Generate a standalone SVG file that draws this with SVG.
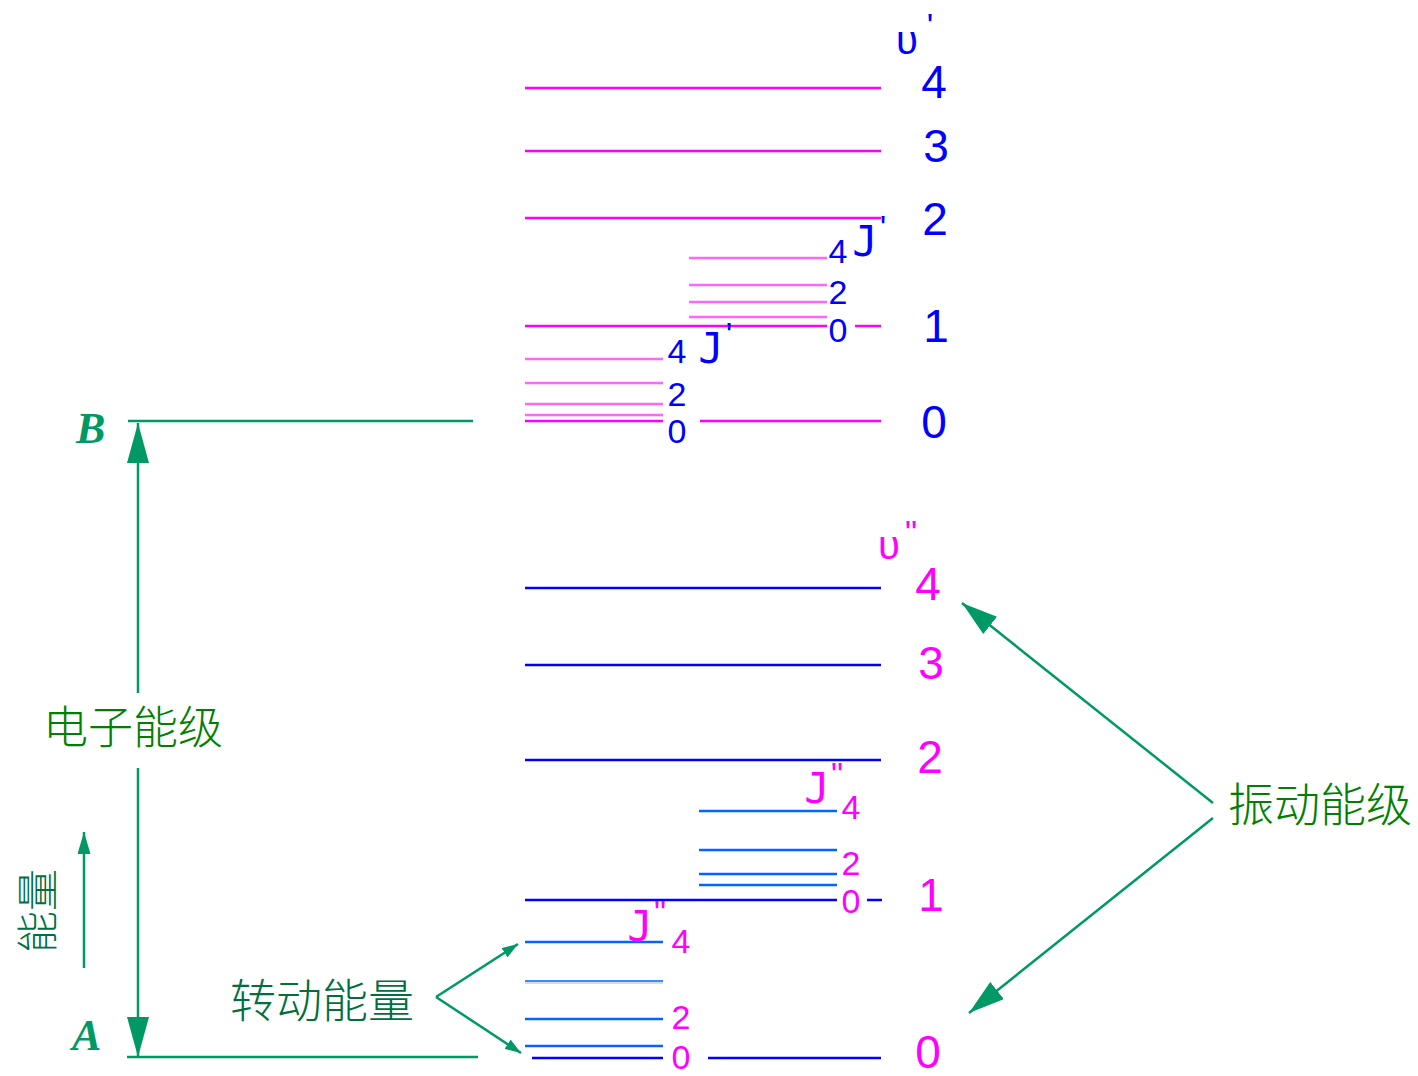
<svg xmlns="http://www.w3.org/2000/svg" width="1418" height="1076" viewBox="0 0 1418 1076">
<defs>
<style>
.bg{fill:#ffffff}
.um{stroke:#ff00ff;stroke-width:2.5;fill:none}
.ur{stroke:#ff66ff;stroke-width:2.5;fill:none}
.lm{stroke:#0000ff;stroke-width:2.5;fill:none}
.lr{stroke:#0066ff;stroke-width:2.5;fill:none}
.gl{stroke:#009966;stroke-width:2.5;fill:none}
.bd{font-family:"Liberation Sans",Arial,sans-serif;font-size:46px;fill:#0000ff;text-anchor:middle}
.bs{font-family:"Liberation Sans",Arial,sans-serif;font-size:34px;fill:#0000ff;text-anchor:middle}
.md{font-family:"Liberation Sans",Arial,sans-serif;font-size:46px;fill:#ff00ff;text-anchor:middle}
.ms{font-family:"Liberation Sans",Arial,sans-serif;font-size:34px;fill:#ff00ff;text-anchor:middle}
.jb{font-family:"DejaVu Sans Mono",monospace;font-size:42px;fill:#0000ff;text-anchor:middle}
.jm{font-family:"DejaVu Sans Mono",monospace;font-size:42px;fill:#ff00ff;text-anchor:middle}
.cn{font-family:"Noto Sans CJK SC",sans-serif;font-weight:300}
.ab{font-family:"Liberation Serif","Times New Roman",serif;font-style:italic;font-weight:bold;font-size:44px;fill:#009966}
</style>
<marker id="hBig" viewBox="0 0 40 22" refX="40" refY="11" markerWidth="40" markerHeight="22" markerUnits="userSpaceOnUse" orient="auto"><path d="M0,0 L40,11 L0,22 z" fill="#009966"/></marker>
<marker id="hMid" viewBox="0 0 36 22" refX="36" refY="11" markerWidth="36" markerHeight="22" markerUnits="userSpaceOnUse" orient="auto"><path d="M0,0 L36,11 L0,22 z" fill="#009966"/></marker>
<marker id="hSm" viewBox="0 0 22 13" refX="22" refY="6.5" markerWidth="22" markerHeight="13" markerUnits="userSpaceOnUse" orient="auto"><path d="M0,0 L22,6.5 L0,13 z" fill="#009966"/></marker>
<marker id="hTiny" viewBox="0 0 16 11" refX="16" refY="5.5" markerWidth="16" markerHeight="11" markerUnits="userSpaceOnUse" orient="auto"><path d="M0,0 L16,5.5 L0,11 z" fill="#009966"/></marker>
</defs>
<rect class="bg" x="0" y="0" width="1418" height="1076"/>

<g id="upper-state">
<path class="um" d="M525,88H881M525,151H881M525,218H881M525,326H827M855,326H881M525,421H663M700,421H881"/>
<path class="ur" d="M689,258H827M689,285H827M689,302H827M689,317H827"/>
<path class="ur" d="M525,359H663M525,383H663M525,404H663M525,415H663"/>
<text class="bd" x="934" y="98">4</text>
<text class="bd" x="936" y="162">3</text>
<text class="bd" x="935" y="235">2</text>
<text class="bd" x="936" y="342">1</text>
<text class="bd" x="934" y="438">0</text>
<text x="907" y="54" style="font-family:'Liberation Sans',sans-serif;font-size:40px;fill:#0000ff;text-anchor:middle">υ</text>
<text class="bs" x="930" y="37">'</text>
<text class="bs" x="838" y="263">4</text>
<text class="bs" x="838" y="304">2</text>
<text class="bs" x="838" y="342">0</text>
<text class="jb" x="865" y="256">J</text>
<text class="bs" x="883" y="239">'</text>
<text class="bs" x="677" y="363">4</text>
<text class="bs" x="677" y="406">2</text>
<text class="bs" x="677" y="443">0</text>
<text class="jb" x="711" y="363">J</text>
<text class="bs" x="729" y="346">'</text>
</g>

<g id="lower-state">
<path class="lm" d="M525,588H881M525,665H881M525,760H881M525,900H837M867,900H882M532,1058H663M708,1058H881"/>
<path class="lr" d="M699,811H837M699,850H837M699,874H837M699,885H837"/>
<path class="lr" d="M525,942H663M525,1019H663M525,1046H663"/>
<path d="M525,981H663" stroke="#3d8cff" stroke-width="2" fill="none"/>
<path d="M525,983H663" stroke="#c8c8ff" stroke-width="1.5" fill="none"/>
<text class="md" x="928" y="600">4</text>
<text class="md" x="931" y="679">3</text>
<text class="md" x="930" y="773">2</text>
<text class="md" x="931" y="911">1</text>
<text class="md" x="928" y="1068">0</text>
<text x="889" y="559" style="font-family:'Liberation Sans',sans-serif;font-size:40px;fill:#ff00ff;text-anchor:middle">υ</text>
<text class="ms" x="911" y="544">"</text>
<text class="ms" x="851" y="819">4</text>
<text class="ms" x="851" y="875">2</text>
<text class="ms" x="851" y="913">0</text>
<text class="jm" x="817" y="803">J</text>
<text class="ms" x="837" y="786">"</text>
<text class="ms" x="681" y="953">4</text>
<text class="ms" x="681" y="1029">2</text>
<text class="ms" x="681" y="1069">0</text>
<text class="jm" x="640" y="941">J</text>
<text class="ms" x="660" y="924">"</text>
</g>

<g id="electronic-levels">
<path class="gl" d="M128,421H473M127,1057H478"/>
<text class="ab" x="76" y="443">B</text>
<text class="ab" x="72" y="1050">A</text>
</g>

<g id="label-electronic">
<text class="cn" x="43" y="744" style="font-size:45px;fill:#008000">电子能级</text>
</g>
<g id="label-energy">
<text class="cn" transform="translate(53,911) rotate(-90)" x="0" y="0" style="font-size:42px;fill:#007040;text-anchor:middle">能量</text>
</g>
<g id="label-rotation">
<text class="cn" x="230" y="1017" style="font-size:46px;fill:#006f3c">转动能量</text>
</g>
<g id="label-vibration">
<text class="cn" x="1228" y="821" style="font-size:46px;fill:#008000">振动能级</text>
</g>

<g id="connectors">
<line class="gl" x1="138" y1="693" x2="138" y2="423" marker-end="url(#hBig)"/>
<line class="gl" x1="138" y1="768" x2="138" y2="1057" marker-end="url(#hBig)"/>
<line class="gl" x1="84" y1="968" x2="84" y2="832" marker-end="url(#hSm)"/>
<line class="gl" x1="436" y1="997" x2="518" y2="944" marker-end="url(#hTiny)"/>
<line class="gl" x1="436" y1="997" x2="521" y2="1053" marker-end="url(#hTiny)"/>
<line class="gl" x1="1213" y1="803" x2="962" y2="603" marker-end="url(#hMid)"/>
<line class="gl" x1="1213" y1="818" x2="969" y2="1013" marker-end="url(#hMid)"/>
</g>
</svg>
